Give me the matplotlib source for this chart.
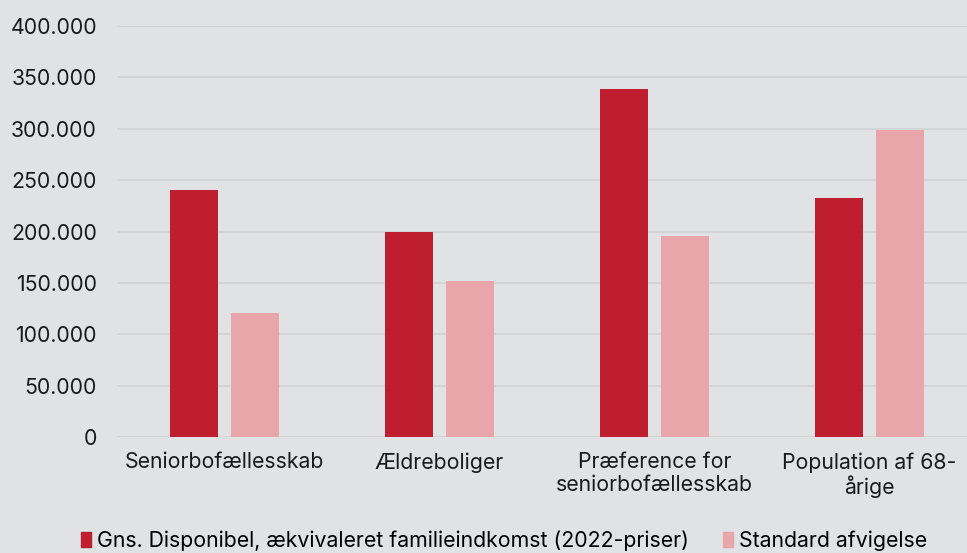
import numpy as np
import matplotlib
matplotlib.use("Agg")
import matplotlib.pyplot as plt
from matplotlib.patches import Patch

# DATA
categories = ["Seniorbofællesskab", "Ældreboliger", "Præference for\nseniorbofællesskab", "Population af 68-\nårige"]
gns_indkomst = [240000, 200000, 339000, 233000]
std_afvigelse = [121000, 152000, 196000, 299000]
yticks = [0, 50000, 100000, 150000, 200000, 250000, 300000, 350000, 400000]

series_names = ["Gns. Disponibel, ækvivaleret familieindkomst (2022-priser)", "Standard afvigelse"]

bg = "#E1E2E4"
dark = "#BE1E2D"
light = "#E8A6AB"
fs = 15.3

plt.rcParams['font.family'] = ['Inter', 'DejaVu Sans']

fig = plt.figure(figsize=(9.67, 5.53), dpi=100, facecolor=bg)
ax = fig.add_axes([117 / 967, (553 - 437) / 553, 850 / 967, 411 / 553])
ax.set_facecolor(bg)

x = np.arange(len(categories))
w = 0.223
off = 0.142
ax.bar(x - off, gns_indkomst, w, color=dark, zorder=3)
ax.bar(x + off, std_afvigelse, w, color=light, zorder=3)

ax.set_xlim(-0.5, 3.453)
ax.set_ylim(0, 400000)
ax.set_yticks(yticks)
ax.set_yticklabels([f"{v:,.0f}".replace(",", ".") if v else "0" for v in yticks])
ax.set_xticks(x)
ax.set_xticklabels(categories, linespacing=1.15)

ax.yaxis.grid(True, color="#D3D4D6", linewidth=1.5, zorder=0)
ax.tick_params(axis="both", length=0, labelsize=fs, colors="#1a1a1a")
ax.tick_params(axis="y", pad=14.4)
ax.tick_params(axis="x", pad=11)
for s in ax.spines.values():
    s.set_visible(False)

handles = [Patch(color=dark), Patch(color=light)]
fig.legend(handles, series_names, loc="center", bbox_to_anchor=(0.521, 1 - 541 / 553),
           ncol=2, frameon=False, fontsize=fs, handlelength=0.5, handleheight=0.7,
           handletextpad=0.25, columnspacing=1.6, borderaxespad=0)

plt.savefig("out.png", dpi=100, facecolor=bg)
